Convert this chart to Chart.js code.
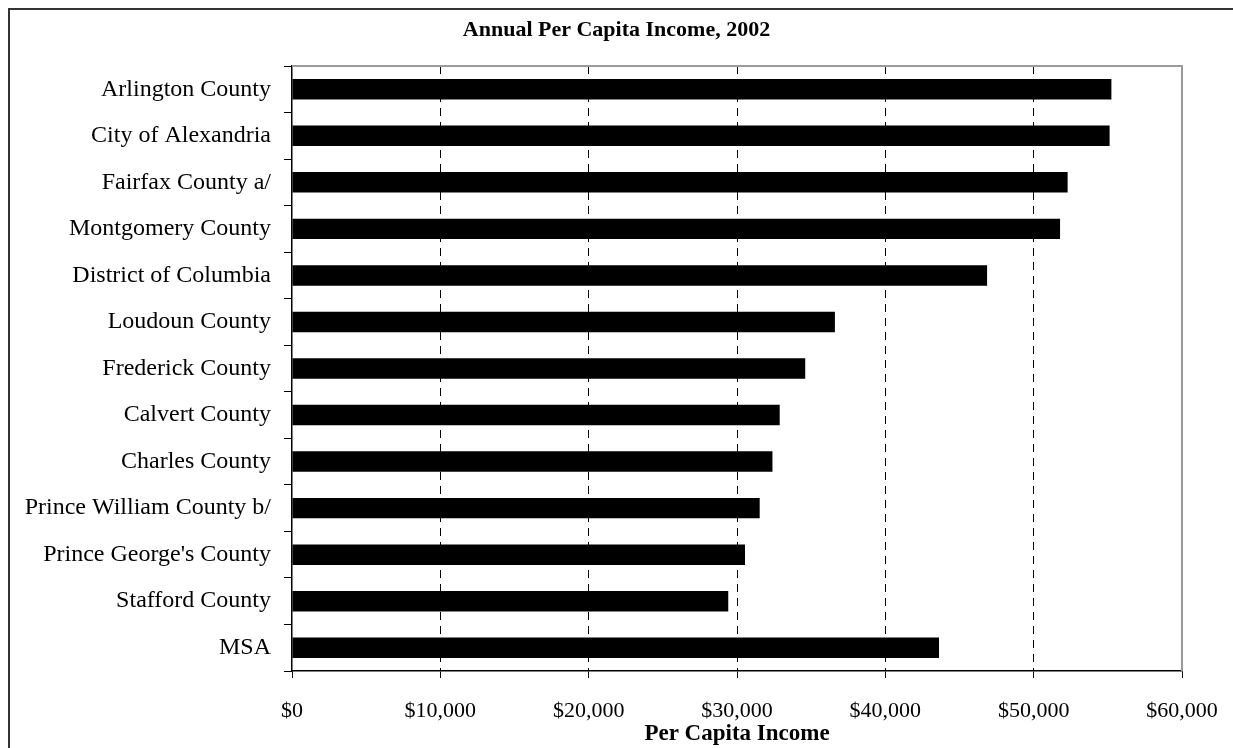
<!DOCTYPE html>
<html lang="en">
<head>
    <meta charset="UTF-8">
    <title>Annual Per Capita Income, 2002</title>
    <script src="https://cdn.jsdelivr.net/npm/chart.js"></script>
    <style>
        html, body {
            margin: 0;
            height: 100%;
            overflow: hidden;
            background: #fff;
        }
        canvas {
            display: block;
        }
    </style>
</head>
<body>
    <canvas id="incomeChart" width="1233" height="748"></canvas>
    <script>
        const chartTitle = 'Annual Per Capita Income, 2002';
        const jurisdictions = [
            'Arlington County',
            'City of Alexandria',
            'Fairfax County a/',
            'Montgomery County',
            'District of Columbia',
            'Loudoun County',
            'Frederick County',
            'Calvert County',
            'Charles County',
            'Prince William County b/',
            "Prince George's County",
            'Stafford County',
            'MSA'
        ];
        const perCapitaIncome = [
            55240, 55120, 52290, 51780, 46860, 36600, 34600,
            32880, 32390, 31530, 30540, 29410, 43620
        ];
        const incomeTickLabels = ['$0', '$10,000', '$20,000', '$30,000', '$40,000', '$50,000', '$60,000'];

        const serif = 'Liberation Serif, Times New Roman, serif';

        // white page, outer frame, centred title and the grey top/right edge of the plot
        const framePlugin = {
            id: 'frame',
            beforeDraw(chart) {
                const ctx = chart.ctx;
                ctx.save();
                ctx.fillStyle = '#fff';
                ctx.fillRect(0, 0, chart.width, chart.height);
                ctx.strokeStyle = '#333';
                ctx.lineWidth = 2;
                ctx.strokeRect(9, 9, chart.width + 20, chart.height + 20);
                ctx.fillStyle = '#000';
                ctx.font = 'bold 22px ' + serif;
                ctx.textAlign = 'center';
                ctx.textBaseline = 'middle';
                ctx.fillText(chartTitle, chart.width / 2, 30);
                ctx.restore();
            },
            afterDatasetsDraw(chart) {
                const { ctx, chartArea: a } = chart;
                ctx.save();
                ctx.strokeStyle = '#9a9a9a';
                ctx.lineWidth = 2;
                ctx.beginPath();
                ctx.moveTo(a.left, a.top);
                ctx.lineTo(a.right, a.top);
                ctx.lineTo(a.right, a.bottom);
                ctx.stroke();
                ctx.restore();
            }
        };

        const ctx = document.getElementById('incomeChart').getContext('2d');
        new Chart(ctx, {
            type: 'bar',
            data: {
                labels: jurisdictions,
                datasets: [{
                    label: 'Per Capita Income',
                    data: perCapitaIncome,
                    backgroundColor: '#000',
                    barPercentage: 0.44,
                    categoryPercentage: 1
                }]
            },
            options: {
                indexAxis: 'y',
                responsive: false,
                animation: false,
                layout: {
                    padding: { left: 10, right: 20, top: 66, bottom: 0 }
                },
                plugins: {
                    legend: { display: false },
                    tooltip: { enabled: false },
                    title: { display: false }
                },
                scales: {
                    x: {
                        min: 0,
                        max: 60000,
                        ticks: {
                            stepSize: 10000,
                            autoSkip: false,
                            maxRotation: 0,
                            color: '#000',
                            padding: 20,
                            font: { family: serif, size: 22 },
                            callback: (value, index) => incomeTickLabels[index]
                        },
                        grid: {
                            // no dashed line on top of the axis or the right edge
                            color: c => (c.tick && (c.tick.value === 0 || c.tick.value === 60000)) ? 'rgba(0,0,0,0)' : '#000',
                            tickColor: '#000',
                            tickLength: 7,
                            lineWidth: 1
                        },
                        border: { color: '#000', width: 1.5, dash: [8, 6] },
                        title: {
                            display: true,
                            text: 'Per Capita Income',
                            color: '#000',
                            font: { family: serif, size: 23, weight: 'bold' },
                            padding: { top: 0, bottom: 0 }
                        },
                        afterFit: scale => {
                            scale.height = 77;
                            scale.paddingRight = 51;
                        }
                    },
                    y: {
                        grid: {
                            offset: true,
                            drawOnChartArea: false,
                            color: '#000',
                            tickLength: 8
                        },
                        border: { color: '#000', width: 1.5 },
                        ticks: {
                            color: '#000',
                            padding: 13,
                            font: { family: serif, size: 24 }
                        },
                        afterFit: scale => { scale.width = 282; }
                    }
                }
            },
            plugins: [framePlugin]
        });
    </script>
</body>
</html>
